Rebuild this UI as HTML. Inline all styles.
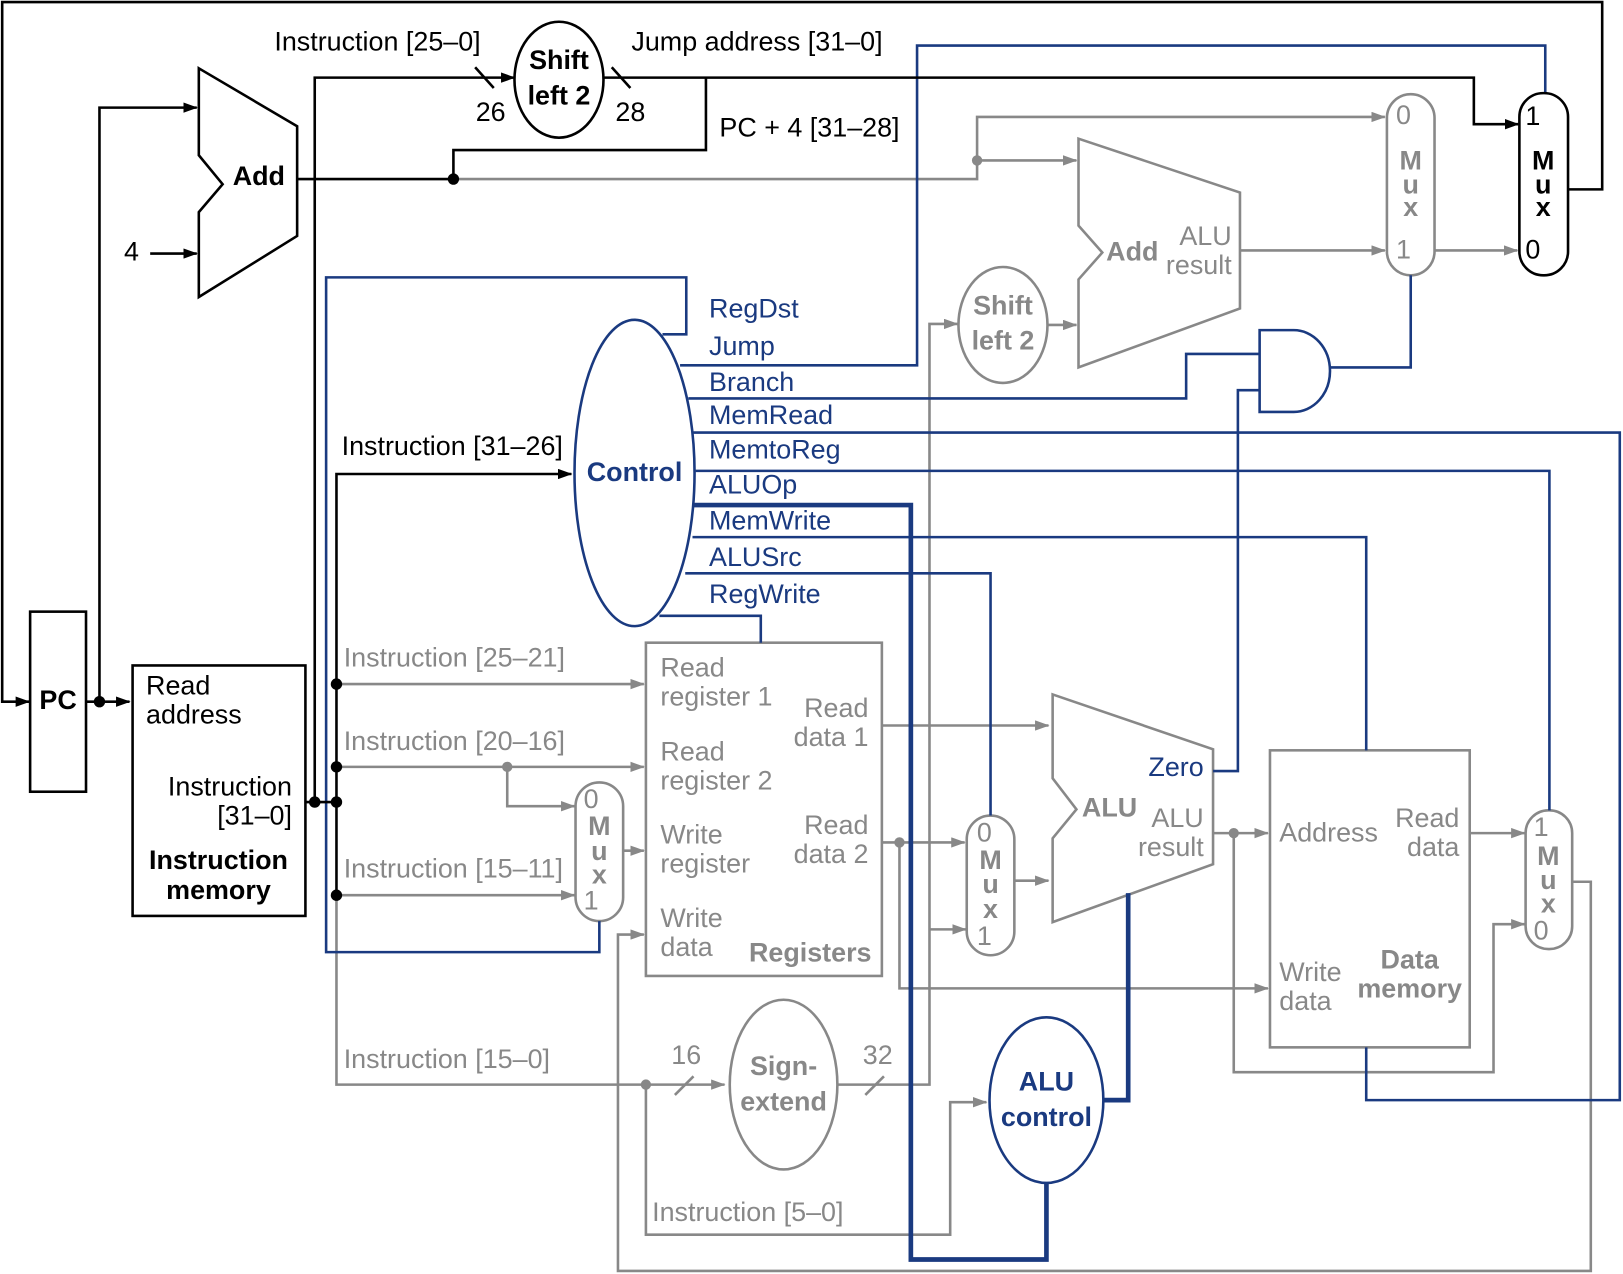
<!DOCTYPE html>
<html><head><meta charset="utf-8"><style>
html,body{margin:0;padding:0;background:#fff}
svg{display:block}
text{font-family:"Liberation Sans",sans-serif;font-size:26px}
.b{font-weight:bold}
.k{fill:#000}.g{fill:#888}.u{fill:#1a3a80}
</style></head><body>
<svg width="1623" height="1274" viewBox="0 0 1568 1231" xmlns="http://www.w3.org/2000/svg">
<defs>
<marker id="ak" markerWidth="14" markerHeight="10" refX="13" refY="5" orient="auto" markerUnits="userSpaceOnUse"><path d="M0,0L14,5L0,10z" fill="#000"/></marker>
<marker id="ag" markerWidth="14" markerHeight="10" refX="13" refY="5" orient="auto" markerUnits="userSpaceOnUse"><path d="M0,0L14,5L0,10z" fill="#888"/></marker>
</defs>
<g fill="none" stroke="#888" stroke-width="2.5">
<path d="M438,173H944V113H1338" marker-end="url(#ag)"/>
<path d="M944,155H1040" marker-end="url(#ag)"/>
<path d="M325,661H622" marker-end="url(#ag)"/>
<path d="M325,741H622" marker-end="url(#ag)"/>
<path d="M490,741V779H555" marker-end="url(#ag)"/>
<path d="M325,865H555" marker-end="url(#ag)"/>
<path d="M325,865V1048H700" marker-end="url(#ag)"/>
<path d="M652,1058L670,1040M836,1058L854,1040"/>
<path d="M602,822H622" marker-end="url(#ag)"/>
<path d="M810,1048H898V313H925" marker-end="url(#ag)"/>
<path d="M898,898H933" marker-end="url(#ag)"/>
<path d="M624,1048V1193H918V1065H953" marker-end="url(#ag)"/>
<path d="M1520,852H1537V1228H597V903H622" marker-end="url(#ag)"/>
<path d="M852,701H1013" marker-end="url(#ag)"/>
<path d="M852,814H932" marker-end="url(#ag)"/>
<path d="M869,814V955H1225" marker-end="url(#ag)"/>
<path d="M980,851H1013" marker-end="url(#ag)"/>
<path d="M1172,805H1225" marker-end="url(#ag)"/>
<path d="M1192,805V1036H1443V893H1473" marker-end="url(#ag)"/>
<path d="M1420,805H1473" marker-end="url(#ag)"/>
<path d="M1012,314H1040" marker-end="url(#ag)"/>
<path d="M1198,242H1338" marker-end="url(#ag)"/>
<path d="M1386,242H1466" marker-end="url(#ag)"/>
<rect x="556" y="756" width="46" height="134" rx="23"/>
<rect x="624" y="621" width="228" height="322"/>
<ellipse cx="757" cy="1048" rx="52" ry="82"/>
<rect x="934" y="788" width="46" height="135" rx="23"/>
<polygon points="1017,671 1172,724 1172,835 1017,891 1017,810 1040,782 1017,752"/>
<rect x="1227" y="725" width="193" height="287"/>
<rect x="1474" y="783" width="45" height="134" rx="22"/>
<ellipse cx="969" cy="314" rx="43" ry="56"/>
<polygon points="1042,134 1198,186 1198,298 1042,355 1042,270 1065,244 1042,218"/>
<rect x="1340" y="91" width="46" height="175" rx="23"/>
</g>
<g fill="#888"><circle cx="944" cy="155" r="5"/><circle cx="490" cy="741" r="5"/><circle cx="624" cy="1048" r="5"/><circle cx="869" cy="814" r="5"/><circle cx="1192" cy="805" r="5"/></g>
<g fill="none" stroke="#1a3a80" stroke-width="2.5">
<ellipse cx="613" cy="457" rx="58" ry="148"/>
<path d="M640,323H663V268H315V920H579V890"/>
<path d="M657,353H886V44H1493V90"/>
<path d="M665,385H1146V342H1217"/>
<path d="M1217,319H1250A35,39.5 0 0 1 1250,398H1217Z"/>
<path d="M1285,355H1363V266"/>
<path d="M1172,745H1196V377H1217"/>
<path d="M670,418H1565V1063H1320V1012"/>
<path d="M672,455H1497V783"/>
<path d="M669,519H1320V725"/>
<path d="M662,554H957V788"/>
<path d="M637,595H735V621"/>
<ellipse cx="1011" cy="1063" rx="55" ry="80"/>
<path d="M670,488H880V1217H1011V1143M1066,1063H1090V863" stroke-width="4.5"/>
</g>
<g fill="none" stroke="#000" stroke-width="2.5">
<path d="M1515,183H1548V2H2V678H28" marker-end="url(#ak)"/>
<rect x="29" y="591" width="54" height="174"/>
<path d="M83,678H125" marker-end="url(#ak)"/>
<path d="M96,678V104H190" marker-end="url(#ak)"/>
<path d="M145,245H190" marker-end="url(#ak)"/>
<polygon points="192,66 287,122 287,228 192,287 192,205 215,178 192,150"/>
<path d="M287,173H438V145H682V75"/>
<path d="M583,75H1424V120H1467" marker-end="url(#ak)"/>
<rect x="128" y="643" width="167" height="242"/>
<path d="M295,775H325M304,775V75H497" marker-end="url(#ak)"/>
<path d="M325,865V458H552" marker-end="url(#ak)"/>
<path d="M459,65L477,85M591,65L609,85"/>
<ellipse cx="540" cy="77" rx="43" ry="56"/>
<rect x="1468" y="90" width="47" height="176" rx="23"/>
</g>
<g fill="#000"><circle cx="438" cy="173" r="5.5"/><circle cx="96" cy="678" r="5.5"/><circle cx="304" cy="775" r="5.5"/><circle cx="325" cy="775" r="5.5"/><circle cx="325" cy="661" r="5.5"/><circle cx="325" cy="741" r="5.5"/><circle cx="325" cy="865" r="5.5"/></g>
<g dominant-baseline="middle">
<text class="k b" x="56" y="678" text-anchor="middle">PC</text>
<text class="k b" x="250" y="172" text-anchor="middle">Add</text>
<text class="k" x="127" y="245" text-anchor="middle">4</text>
<text class="k" x="265" y="42">Instruction [25–0]</text>
<text class="k" x="610" y="42">Jump address [31–0]</text>
<text class="k" x="695" y="125">PC + 4 [31–28]</text>
<text class="k" x="474" y="110" text-anchor="middle">26</text>
<text class="k" x="609" y="110" text-anchor="middle">28</text>
<text class="k b" x="540" y="60" text-anchor="middle">Shift</text>
<text class="k b" x="540" y="94" text-anchor="middle">left 2</text>
<text class="k" x="141" y="664">Read</text>
<text class="k" x="141" y="692">address</text>
<text class="k" x="282" y="762" text-anchor="end">Instruction</text>
<text class="k" x="282" y="790" text-anchor="end">[31–0]</text>
<text class="k b" x="211" y="833" text-anchor="middle">Instruction</text>
<text class="k b" x="211" y="862" text-anchor="middle">memory</text>
<text class="k" x="330" y="433">Instruction [31–26]</text>
<text class="k" x="1481" y="114" text-anchor="middle">1</text>
<text class="k b" x="1491" y="157" text-anchor="middle">M</text>
<text class="k b" x="1491" y="180" text-anchor="middle">u</text>
<text class="k b" x="1491" y="202" text-anchor="middle">x</text>
<text class="k" x="1481" y="243" text-anchor="middle">0</text>
<text class="u b" x="613" y="458" text-anchor="middle">Control</text>
<text class="u" x="685" y="300">RegDst</text>
<text class="u" x="685" y="336">Jump</text>
<text class="u" x="685" y="371">Branch</text>
<text class="u" x="685" y="403">MemRead</text>
<text class="u" x="685" y="436">MemtoReg</text>
<text class="u" x="685" y="470">ALUOp</text>
<text class="u" x="685" y="505">MemWrite</text>
<text class="u" x="685" y="540">ALUSrc</text>
<text class="u" x="685" y="576">RegWrite</text>
<text class="u" x="1163" y="743" text-anchor="end">Zero</text>
<text class="u b" x="1011" y="1047" text-anchor="middle">ALU</text>
<text class="u b" x="1011" y="1081" text-anchor="middle">control</text>
<text class="g" x="332" y="637">Instruction [25–21]</text>
<text class="g" x="332" y="718">Instruction [20–16]</text>
<text class="g" x="332" y="841">Instruction [15–11]</text>
<text class="g" x="332" y="1025">Instruction [15–0]</text>
<text class="g" x="630" y="1173">Instruction [5–0]</text>
<text class="g" x="663" y="1021" text-anchor="middle">16</text>
<text class="g" x="848" y="1021" text-anchor="middle">32</text>
<text class="g b" x="757" y="1032" text-anchor="middle">Sign-</text>
<text class="g b" x="757" y="1066" text-anchor="middle">extend</text>
<text class="g b" x="969" y="297" text-anchor="middle">Shift</text>
<text class="g b" x="969" y="331" text-anchor="middle">left 2</text>
<text class="g b" x="1094" y="245" text-anchor="middle">Add</text>
<text class="g" x="1190" y="230" text-anchor="end">ALU</text>
<text class="g" x="1190" y="258" text-anchor="end">result</text>
<text class="g" x="1356" y="113" text-anchor="middle">0</text>
<text class="g b" x="1363" y="157" text-anchor="middle">M</text>
<text class="g b" x="1363" y="180" text-anchor="middle">u</text>
<text class="g b" x="1363" y="202" text-anchor="middle">x</text>
<text class="g" x="1356" y="243" text-anchor="middle">1</text>
<text class="g" x="571" y="774" text-anchor="middle">0</text>
<text class="g b" x="579" y="800" text-anchor="middle">M</text>
<text class="g b" x="579" y="824" text-anchor="middle">u</text>
<text class="g b" x="579" y="847" text-anchor="middle">x</text>
<text class="g" x="571" y="872" text-anchor="middle">1</text>
<text class="g" x="638" y="647">Read</text>
<text class="g" x="638" y="675">register 1</text>
<text class="g" x="638" y="728">Read</text>
<text class="g" x="638" y="756">register 2</text>
<text class="g" x="638" y="808">Write</text>
<text class="g" x="638" y="836">register</text>
<text class="g" x="638" y="889">Write</text>
<text class="g" x="638" y="917">data</text>
<text class="g" x="839" y="686" text-anchor="end">Read</text>
<text class="g" x="839" y="714" text-anchor="end">data 1</text>
<text class="g" x="839" y="799" text-anchor="end">Read</text>
<text class="g" x="839" y="827" text-anchor="end">data 2</text>
<text class="g b" x="842" y="922" text-anchor="end">Registers</text>
<text class="g" x="951" y="806" text-anchor="middle">0</text>
<text class="g b" x="957" y="833" text-anchor="middle">M</text>
<text class="g b" x="957" y="856" text-anchor="middle">u</text>
<text class="g b" x="957" y="880" text-anchor="middle">x</text>
<text class="g" x="951" y="906" text-anchor="middle">1</text>
<text class="g b" x="1072" y="782" text-anchor="middle">ALU</text>
<text class="g" x="1163" y="792" text-anchor="end">ALU</text>
<text class="g" x="1163" y="820" text-anchor="end">result</text>
<text class="g" x="1236" y="806">Address</text>
<text class="g" x="1410" y="792" text-anchor="end">Read</text>
<text class="g" x="1410" y="820" text-anchor="end">data</text>
<text class="g" x="1236" y="941">Write</text>
<text class="g" x="1236" y="969">data</text>
<text class="g b" x="1362" y="929" text-anchor="middle">Data</text>
<text class="g b" x="1362" y="957" text-anchor="middle">memory</text>
<text class="g" x="1489" y="801" text-anchor="middle">1</text>
<text class="g b" x="1496" y="829" text-anchor="middle">M</text>
<text class="g b" x="1496" y="852" text-anchor="middle">u</text>
<text class="g b" x="1496" y="875" text-anchor="middle">x</text>
<text class="g" x="1489" y="901" text-anchor="middle">0</text>
</g>
</svg>
</body></html>
